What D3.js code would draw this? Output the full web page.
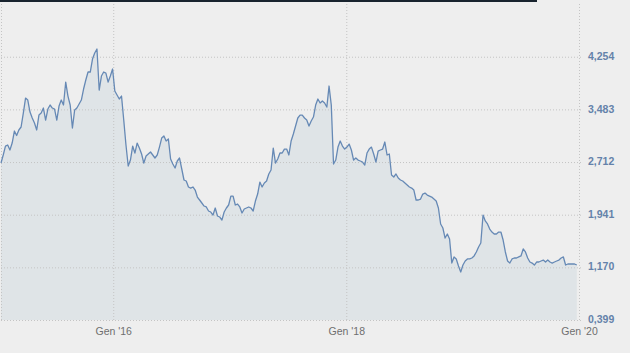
<!DOCTYPE html>
<html>
<head>
<meta charset="utf-8">
<script src="https://cdn.jsdelivr.net/npm/d3@7"></script>
<style>
  html, body { margin: 0; padding: 0; background: #eeeeee; }
  svg { display: block; }
</style>
</head>
<body>
<svg id="chart" width="630" height="353"></svg>
<script>
// weekly closes, first week starts here
let startDate = "2015-01-14";

let values = [
  2.698, 2.815, 2.946, 2.961, 2.888, 2.990, 3.166, 3.100, 3.181, 3.225,
  3.429, 3.649, 3.620, 3.444, 3.357, 3.283, 3.181, 3.400, 3.429, 3.503,
  3.327, 3.488, 3.547, 3.503, 3.488, 3.327, 3.532, 3.620, 3.547, 3.883,
  3.678, 3.547, 3.210, 3.473, 3.503, 3.561, 3.620, 3.781, 3.913, 4.030,
  4.030, 4.220, 4.308, 4.367, 3.766, 3.971, 4.030, 4.015, 3.883, 3.971,
  4.074, 3.752, 3.693, 3.635, 3.678, 3.327, 2.961, 2.654, 2.741, 2.946,
  2.844, 2.990, 2.917, 2.830, 2.697, 2.800, 2.830, 2.859, 2.815, 2.771,
  2.815, 2.931, 3.063, 3.093, 3.020, 3.049, 2.756, 2.683, 2.624, 2.727,
  2.771, 2.610, 2.449, 2.434, 2.347, 2.331, 2.347, 2.302, 2.199, 2.156,
  2.112, 2.068, 2.054, 1.995, 1.980, 1.936, 2.039, 1.922, 1.907, 1.863,
  1.980, 2.039, 2.083, 2.214, 2.214, 2.083, 2.097, 2.054, 1.966, 2.024,
  2.039, 2.054, 2.039, 1.995, 2.141, 2.243, 2.419, 2.347, 2.405, 2.434,
  2.537, 2.595, 2.917, 2.697, 2.756, 2.844, 2.844, 2.902, 2.902, 2.815,
  3.020, 3.122, 3.239, 3.357, 3.400, 3.400, 3.357, 3.327, 3.239, 3.313,
  3.371, 3.547, 3.635, 3.576, 3.605, 3.576, 3.517, 3.825, 3.547, 2.683,
  2.741, 2.931, 3.020, 2.946, 2.902, 2.931, 2.975, 2.888, 2.741, 2.771,
  2.741, 2.727, 2.712, 2.668, 2.844, 2.902, 2.931, 2.830, 2.712, 2.873,
  2.888, 2.902, 3.005, 2.815, 2.830, 2.522, 2.493, 2.537, 2.478, 2.449,
  2.434, 2.405, 2.376, 2.347, 2.331, 2.302, 2.156, 2.156, 2.170, 2.243,
  2.257, 2.228, 2.214, 2.199, 2.170, 2.141, 2.039, 1.805, 1.746, 1.599,
  1.658, 1.585, 1.233, 1.322, 1.293, 1.189, 1.102, 1.204, 1.263, 1.293,
  1.293, 1.307, 1.337, 1.395, 1.468, 1.526, 1.936, 1.849, 1.805, 1.731,
  1.687, 1.658, 1.658, 1.687, 1.687, 1.570, 1.395, 1.263, 1.233, 1.293,
  1.307, 1.307, 1.322, 1.337, 1.439, 1.395, 1.307, 1.248, 1.233, 1.204,
  1.248, 1.248, 1.263, 1.277, 1.248, 1.277, 1.248, 1.233, 1.248, 1.263,
  1.277, 1.307, 1.322, 1.204, 1.219, 1.219, 1.219, 1.219, 1.204
];

let yTicks = [0.399, 1.170, 1.941, 2.712, 3.483, 4.254];
let xTicks = ["2016-01-01", "2018-01-01", "2020-01-01"];
let xDomain = ["2015-01-14", "2020-01-01"];

let itLocale = d3.timeFormatLocale({
  dateTime: "%A %e %B %Y, %X", date: "%d/%m/%Y", time: "%H:%M:%S",
  periods: ["AM", "PM"],
  days: ["Domenica", "Lunedì", "Martedì", "Mercoledì", "Giovedì", "Venerdì", "Sabato"],
  shortDays: ["Dom", "Lun", "Mar", "Mer", "Gio", "Ven", "Sab"],
  months: ["Gennaio", "Febbraio", "Marzo", "Aprile", "Maggio", "Giugno", "Luglio", "Agosto", "Settembre", "Ottobre", "Novembre", "Dicembre"],
  shortMonths: ["Gen", "Feb", "Mar", "Apr", "Mag", "Giu", "Lug", "Ago", "Set", "Ott", "Nov", "Dic"]
});
let numLocale = d3.formatLocale({decimal: ",", thousands: ".", grouping: [3], currency: ["€", ""]});

let parse = d3.timeParse("%Y-%m-%d");
let start = parse(startDate);
let data = values.map((v, i) => ({date: d3.timeDay.offset(start, i * 7), value: v}));

let plot = {left: 1, right: 579, top: 4, bottom: 320};

let lineChart = (element) => {
  let svg = d3.select(element);

  let x = d3.scaleTime()
    .domain(xDomain.map(parse))
    .range([plot.left, plot.right]);
  let y = d3.scaleLinear()
    .domain([0.399, 5.026])
    .range([plot.bottom, plot.top]);

  // dark strip on top
  svg.append("rect")
    .attr("x", 0).attr("y", 0)
    .attr("width", 537).attr("height", 2)
    .attr("fill", "#18232e");

  let area = d3.area()
    .x(d => x(d.date))
    .y0(plot.bottom)
    .y1(d => y(d.value));
  let line = d3.line()
    .x(d => x(d.date))
    .y(d => y(d.value));

  svg.append("path")
    .datum(data)
    .attr("fill", "#dfe4e7")
    .attr("d", area);

  // vertical grid + bottom labels
  let xAxis = svg.append("g")
    .attr("transform", "translate(0," + plot.top + ")")
    .call(d3.axisBottom(x)
      .tickValues(xTicks.map(parse))
      .tickSize(plot.bottom - plot.top)
      .tickPadding(8)
      .tickFormat(itLocale.format("%b '%y")));
  xAxis.select(".domain").remove();
  xAxis.selectAll("line")
    .attr("stroke", "#c4c4c4")
    .attr("stroke-dasharray", "1,2");
  xAxis.selectAll("text")
    .attr("fill", "#6e6e6e")
    .style("font-family", "'Liberation Sans', Arial, sans-serif")
    .style("font-size", "10.5px");

  // left border
  svg.append("line")
    .attr("x1", 1.5).attr("x2", 1.5)
    .attr("y1", plot.top).attr("y2", plot.bottom)
    .attr("stroke", "#c4c4c4")
    .attr("stroke-dasharray", "1,2");

  // horizontal grid + right labels
  let yAxis = svg.append("g")
    .attr("transform", "translate(" + plot.left + ",0)")
    .call(d3.axisRight(y)
      .tickValues(yTicks)
      .tickSize(582 - plot.left)
      .tickPadding(6)
      .tickFormat(numLocale.format(".3f")));
  yAxis.select(".domain").remove();
  yAxis.selectAll("line")
    .attr("stroke", "#c4c4c4")
    .attr("stroke-dasharray", "1,2");
  yAxis.selectAll("text")
    .attr("fill", "#6482aa")
    .attr("dy", "0.25em")
    .style("font-family", "'Liberation Sans', Arial, sans-serif")
    .style("font-size", "10.5px")
    .style("font-weight", "bold");

  svg.append("path")
    .datum(data)
    .attr("fill", "none")
    .attr("stroke", "#6689b5")
    .attr("stroke-width", 1.3)
    .attr("stroke-linejoin", "round")
    .attr("d", line);
};

lineChart("#chart");
</script>
</body>
</html>
